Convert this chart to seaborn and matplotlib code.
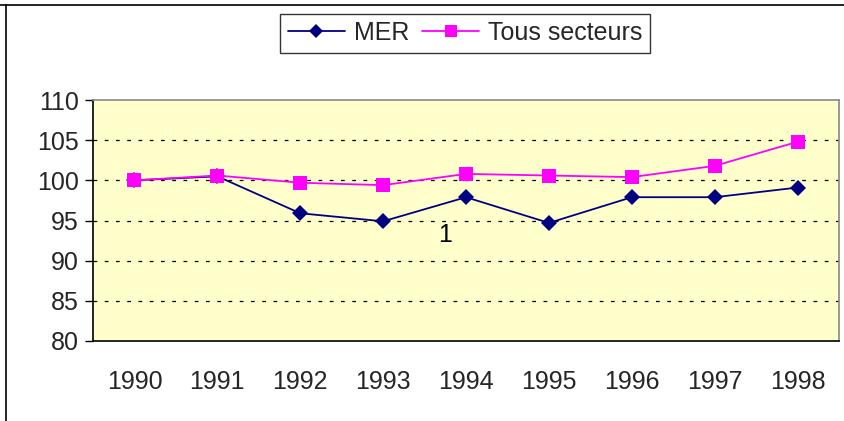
import pandas as pd
import matplotlib.pyplot as plt
import matplotlib.ticker as mticker
from matplotlib.lines import Line2D
import seaborn as sns

# Données (indice base 100 en 1990)
annees = [1990, 1991, 1992, 1993, 1994, 1995, 1996, 1997, 1998]
mer = [100.0, 100.5, 95.9, 94.9, 97.9, 94.7, 97.9, 97.9, 99.1]
tous_secteurs = [100.0, 100.6, 99.7, 99.4, 100.8, 100.6, 100.4, 101.8, 104.8]
series = ["MER", "Tous secteurs"]
yticks = [80, 85, 90, 95, 100, 105, 110]

df = pd.DataFrame({
    "annee": annees * 2,
    "valeur": mer + tous_secteurs,
    "serie": [series[0]] * len(annees) + [series[1]] * len(annees),
})

sns.set_theme(style="white")
plt.rcParams["font.family"] = ["Liberation Sans", "DejaVu Sans"]
TAILLE = 18

fig = plt.figure(figsize=(8.44, 4.21), dpi=100)
ax = fig.add_axes([93 / 844, 1 - 341 / 421, 746 / 844, 241 / 421])
ax.set_facecolor("#FFFFCC")

couleurs = {"MER": "#000080", "Tous secteurs": "#FF00FF"}
marqueurs = {"MER": "D", "Tous secteurs": "s"}
tailles = {"MER": 8.5, "Tous secteurs": 10}

for s in series:
    sub = df[df["serie"] == s]
    sns.lineplot(data=sub, x="annee", y="valeur", ax=ax, color=couleurs[s],
                 marker=marqueurs[s], markersize=tailles[s], markeredgewidth=0,
                 linewidth=1.3, legend=False)

ax.set_xlim(annees[0] - 0.5, annees[-1] + 0.5)
ax.set_ylim(yticks[0], yticks[-1])
ax.set_yticks(yticks)
ax.set_xticks(annees)
ax.set_xticklabels([str(a) for a in annees])
ax.xaxis.set_minor_locator(mticker.FixedLocator([a + 0.5 for a in [annees[0] - 1] + annees]))
ax.tick_params(axis="x", which="major", length=0, pad=21, labelsize=TAILLE)
ax.tick_params(axis="x", which="minor", length=6, width=1, color="#555555", direction="out")
ax.tick_params(axis="y", which="major", length=6, width=1, color="black", direction="out",
               labelsize=TAILLE, pad=4, left=True)
ax.set_xlabel("")
ax.set_ylabel("")

for y in yticks[1:-1]:
    ax.axhline(y, color="black", linestyle=(0, (3, 6)), linewidth=0.9, zorder=0.5)

ax.spines["left"].set_color("black")
ax.spines["bottom"].set_color("black")
ax.spines["top"].set_color("#888888")
ax.spines["right"].set_color("#888888")
for sp in ax.spines.values():
    sp.set_linewidth(1.2)

ax.text(1993.75, 93.2, "1", fontsize=TAILLE, ha="center", va="center", color="black")

handles = [Line2D([0], [0], color=couleurs[s], marker=marqueurs[s],
                  markersize=tailles[s] - 1, markeredgewidth=0, linewidth=1.3)
           for s in series]
leg = fig.legend(handles, series, loc="center", bbox_to_anchor=(465 / 844, 1 - 33 / 421),
                 ncol=2, frameon=True, fancybox=False, fontsize=TAILLE,
                 handlelength=2.3, columnspacing=0.5, handletextpad=0.35,
                 borderpad=0.3, borderaxespad=0)
leg.get_frame().set_edgecolor("black")
leg.get_frame().set_linewidth(1.0)

# Cadre du graphique
fig.add_artist(Line2D([0, 1], [1 - 5 / 421] * 2, color="black", linewidth=1.2,
                      transform=fig.transFigure))
fig.add_artist(Line2D([6 / 844] * 2, [0, 1 - 5 / 421], color="black", linewidth=1.2,
                      transform=fig.transFigure))

fig.savefig("out.png", dpi=100, facecolor="white")
